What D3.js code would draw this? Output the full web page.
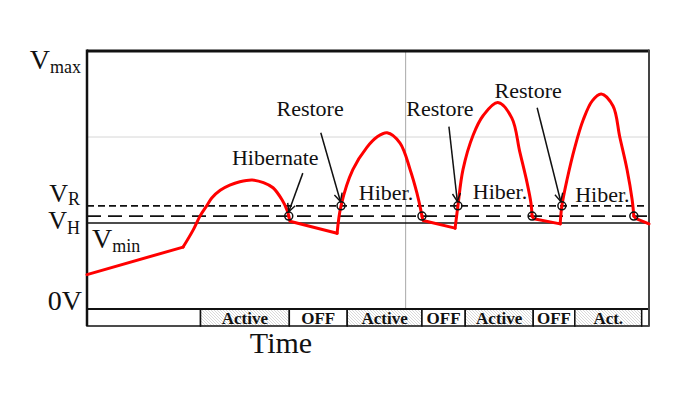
<!DOCTYPE html>
<html>
<head>
<meta charset="utf-8">
<script src="https://cdn.jsdelivr.net/npm/d3@7"></script>
<style>
  body { margin: 0; background: #fff; }
  text { font-family: "Liberation Serif", "Times New Roman", serif; fill: #111; }
</style>
</head>
<body>
<svg id="chart" width="688" height="397"></svg>
<script>
// time in arbitrary units (0..100), voltage with Vmax = 3
let ramp0 = [[0, 0.40], [17.1, 0.72]]
let hump1 = [[17.1, 0.72], [18.9, 0.92], [20.1, 1.08], [21.2, 1.19], [22.2, 1.29], [23.7, 1.38], [25.4, 1.44], [27.2, 1.48], [29.4, 1.50], [31.4, 1.47], [33.1, 1.41], [34.7, 1.27], [35.6, 1.15], [35.9, 1.08]]
let off1 = [[35.9, 1.08], [36.1, 1.02], [44.5, 0.88]]
let hump2 = [[44.5, 0.88], [45.2, 1.20], [47.3, 1.62], [49.8, 1.88], [51.6, 2.00], [53.4, 2.05], [55.7, 1.93], [57.5, 1.62], [58.7, 1.35], [59.4, 1.15], [59.6, 1.08]]
let off2 = [[59.6, 1.08], [59.8, 1.03], [65.5, 0.94]]
let hump3 = [[65.5, 0.94], [66.0, 1.20], [66.9, 1.62], [68.7, 2.02], [70.5, 2.25], [73.1, 2.40], [75.6, 2.22], [77.0, 1.83], [78.3, 1.47], [79.0, 1.23], [79.2, 1.08]]
let off3 = [[79.2, 1.08], [79.5, 1.05], [84.2, 0.99]]
let hump4 = [[84.2, 0.99], [84.5, 1.20], [85.4, 1.50], [86.8, 1.88], [88.3, 2.20], [89.9, 2.42], [91.5, 2.50], [93.6, 2.36], [94.8, 2.00], [96.1, 1.62], [97.0, 1.27], [97.3, 1.08]]
let off4 = [[97.3, 1.08], [97.7, 1.05], [100, 0.99]]

let hiberPts = [[35.9, 1.08], [59.6, 1.08], [79.2, 1.08], [97.3, 1.08]]
let restorePts = [[45.2, 1.20], [66.0, 1.20], [84.5, 1.20]]

// voltage levels
let levelVals = [3, 1.20, 1.08, 1.00, 0]
let levelMain = ["V", "V", "V", "V", "0V"]
let levelSub = ["max", "R", "H", "min", ""]
let gridV = 2
let gridT = 56.7

// mode bar
let segEdges = [0, 20.2, 36.0, 46.3, 59.6, 67.3, 79.4, 86.8, 98.7, 100]
let segNames = ["", "Active", "OFF", "Active", "OFF", "Active", "OFF", "Act.", ""]

// annotations: text, label t/v, arrow from t/v, arrow to t/v
let noteText = ["Hibernate", "Restore", "Restore", "Restore"]
let noteAt = [[33.5, 1.67], [39.7, 2.24], [62.8, 2.24], [78.5, 2.45]]
let arrowFrom = [[38.4, 1.58], [41.6, 2.05], [64.4, 2.12], [80.1, 2.34]]
let arrowTo = [[35.9, 1.13], [45.1, 1.25], [65.9, 1.25], [84.3, 1.25]]
let hiberAt = [[53.2, 1.27], [73.5, 1.28], [91.7, 1.24]]

let svg = d3.select("#chart")
let xScale = d3.scaleLinear().domain([0, 100]).range([87, 649])
let yScale = d3.scaleLinear().domain([0, 3]).range([309, 51])
let barTop = 309
let barBot = 326

let defs = svg.append("defs")
let pat = defs.append("pattern")
  .attr("id", "hatch")
  .attr("patternUnits", "userSpaceOnUse")
  .attr("width", 3).attr("height", 3)
pat.append("rect").attr("width", 3).attr("height", 3).attr("fill", "#fff")
pat.append("path")
  .attr("d", "M0,0 L3,3 M-1,2 L1,4 M2,-1 L4,1")
  .attr("stroke", "#d0d0d0").attr("stroke-width", 0.8)

defs.append("marker")
  .attr("id", "arrow")
  .attr("viewBox", "0 0 10 10")
  .attr("refX", 9).attr("refY", 5)
  .attr("markerWidth", 10).attr("markerHeight", 10)
  .attr("markerUnits", "userSpaceOnUse")
  .attr("orient", "auto")
  .append("path")
  .attr("d", "M1,1 L9,5 L1,9")
  .attr("fill", "none").attr("stroke", "#111").attr("stroke-width", 1.4)

// grid
svg.append("line")
  .attr("x1", xScale(0)).attr("x2", xScale(100))
  .attr("y1", yScale(gridV)).attr("y2", yScale(gridV))
  .attr("stroke", "#d6d6d6").attr("stroke-width", 1)
svg.append("line")
  .attr("x1", xScale(gridT)).attr("x2", xScale(gridT))
  .attr("y1", yScale(3)).attr("y2", yScale(0))
  .attr("stroke", "#a8a8a8").attr("stroke-width", 1)

// threshold lines
svg.append("line")
  .attr("x1", xScale(0)).attr("x2", xScale(100))
  .attr("y1", yScale(levelVals[1])).attr("y2", yScale(levelVals[1]))
  .attr("stroke", "#111").attr("stroke-width", 1.8).attr("stroke-dasharray", "7,4")
svg.append("line")
  .attr("x1", xScale(0)).attr("x2", xScale(100))
  .attr("y1", yScale(levelVals[2])).attr("y2", yScale(levelVals[2]))
  .attr("stroke", "#111").attr("stroke-width", 1.8).attr("stroke-dasharray", "14,7")
svg.append("line")
  .attr("x1", xScale(0)).attr("x2", xScale(100))
  .attr("y1", yScale(levelVals[3])).attr("y2", yScale(levelVals[3]))
  .attr("stroke", "#111").attr("stroke-width", 1.6)

// mode bar
let segs = segNames.map((n, i) => ({ name: n, t0: segEdges[i], t1: segEdges[i + 1] }))
svg.selectAll("rect.seg").data(segs).enter()
  .append("rect")
  .attr("class", "seg")
  .attr("x", d => xScale(d.t0))
  .attr("y", barTop)
  .attr("width", d => xScale(d.t1) - xScale(d.t0))
  .attr("height", barBot - barTop)
  .attr("fill", d => d.name.startsWith("Act") ? "url(#hatch)" : "#fff")
  .attr("stroke", "#111").attr("stroke-width", 1.5)
svg.selectAll("text.seg").data(segs.filter(d => d.name)).enter()
  .append("text")
  .attr("class", "seg")
  .attr("x", d => (xScale(d.t0) + xScale(d.t1)) / 2)
  .attr("y", 324)
  .attr("text-anchor", "middle")
  .attr("font-size", 17).attr("font-weight", "bold")
  .text(d => d.name)

// frame
svg.append("line")
  .attr("x1", xScale(0)).attr("x2", xScale(100))
  .attr("y1", yScale(3)).attr("y2", yScale(3))
  .attr("stroke", "#111").attr("stroke-width", 3)
svg.append("line")
  .attr("x1", xScale(0)).attr("x2", xScale(100))
  .attr("y1", yScale(0)).attr("y2", yScale(0))
  .attr("stroke", "#111").attr("stroke-width", 2)
svg.append("line")
  .attr("x1", xScale(0)).attr("x2", xScale(0))
  .attr("y1", yScale(3) - 1.5).attr("y2", barBot)
  .attr("stroke", "#111").attr("stroke-width", 2.5)
svg.append("line")
  .attr("x1", xScale(100)).attr("x2", xScale(100))
  .attr("y1", yScale(3) - 1.5).attr("y2", barBot)
  .attr("stroke", "#444").attr("stroke-width", 2)

// voltage curve
let smooth = d3.line().x(d => xScale(d[0])).y(d => yScale(d[1])).curve(d3.curveCatmullRom.alpha(0.5))
let straight = d3.line().x(d => xScale(d[0])).y(d => yScale(d[1]))
let pieces = [[ramp0, straight], [hump1, smooth], [off1, straight], [hump2, smooth], [off2, straight],
  [hump3, smooth], [off3, straight], [hump4, smooth], [off4, straight]]
pieces.forEach(p => {
  svg.append("path")
    .attr("d", p[1](p[0]))
    .attr("fill", "none")
    .attr("stroke", "#f00")
    .attr("stroke-width", 3)
    .attr("stroke-linejoin", "round")
    .attr("stroke-linecap", "round")
})

// event markers
svg.selectAll("circle.ev").data(hiberPts.concat(restorePts)).enter()
  .append("circle")
  .attr("class", "ev")
  .attr("cx", d => xScale(d[0]))
  .attr("cy", d => yScale(d[1]))
  .attr("r", 4)
  .attr("fill", "none")
  .attr("stroke", "#111").attr("stroke-width", 1.5)

// annotations
noteText.forEach((t, i) => {
  svg.append("text")
    .attr("x", xScale(noteAt[i][0]))
    .attr("y", yScale(noteAt[i][1]))
    .attr("text-anchor", "middle")
    .attr("font-size", 22)
    .text(t)
  svg.append("line")
    .attr("x1", xScale(arrowFrom[i][0])).attr("y1", yScale(arrowFrom[i][1]))
    .attr("x2", xScale(arrowTo[i][0])).attr("y2", yScale(arrowTo[i][1]))
    .attr("stroke", "#111").attr("stroke-width", 1.5)
    .attr("marker-end", "url(#arrow)")
})
hiberAt.forEach(p => {
  svg.append("text")
    .attr("x", xScale(p[0]))
    .attr("y", yScale(p[1]))
    .attr("text-anchor", "middle")
    .attr("font-size", 22)
    .text("Hiber.")
})

// level labels: x, baseline offset from level, subscript shift, main size
let labelOffsets = [[81, 18, 4, 28], [80, -4, 3, 26], [80, 13, 5, 26], [92, 25, 4, 28], [82, 1, 0, 28]]
levelVals.forEach((v, i) => {
  let o = labelOffsets[i]
  let txt = svg.append("text")
    .attr("x", o[0])
    .attr("y", yScale(v) + o[1])
    .attr("text-anchor", i == 3 ? "start" : "end")
    .attr("font-size", o[3])
  txt.append("tspan").text(levelMain[i])
  if (levelSub[i]) {
    txt.append("tspan")
      .attr("dy", o[2])
      .attr("font-size", 18)
      .text(levelSub[i])
  }
})

svg.append("text")
  .attr("x", 281)
  .attr("y", 353)
  .attr("text-anchor", "middle")
  .attr("font-size", 30)
  .text("Time")
</script>
</body>
</html>
